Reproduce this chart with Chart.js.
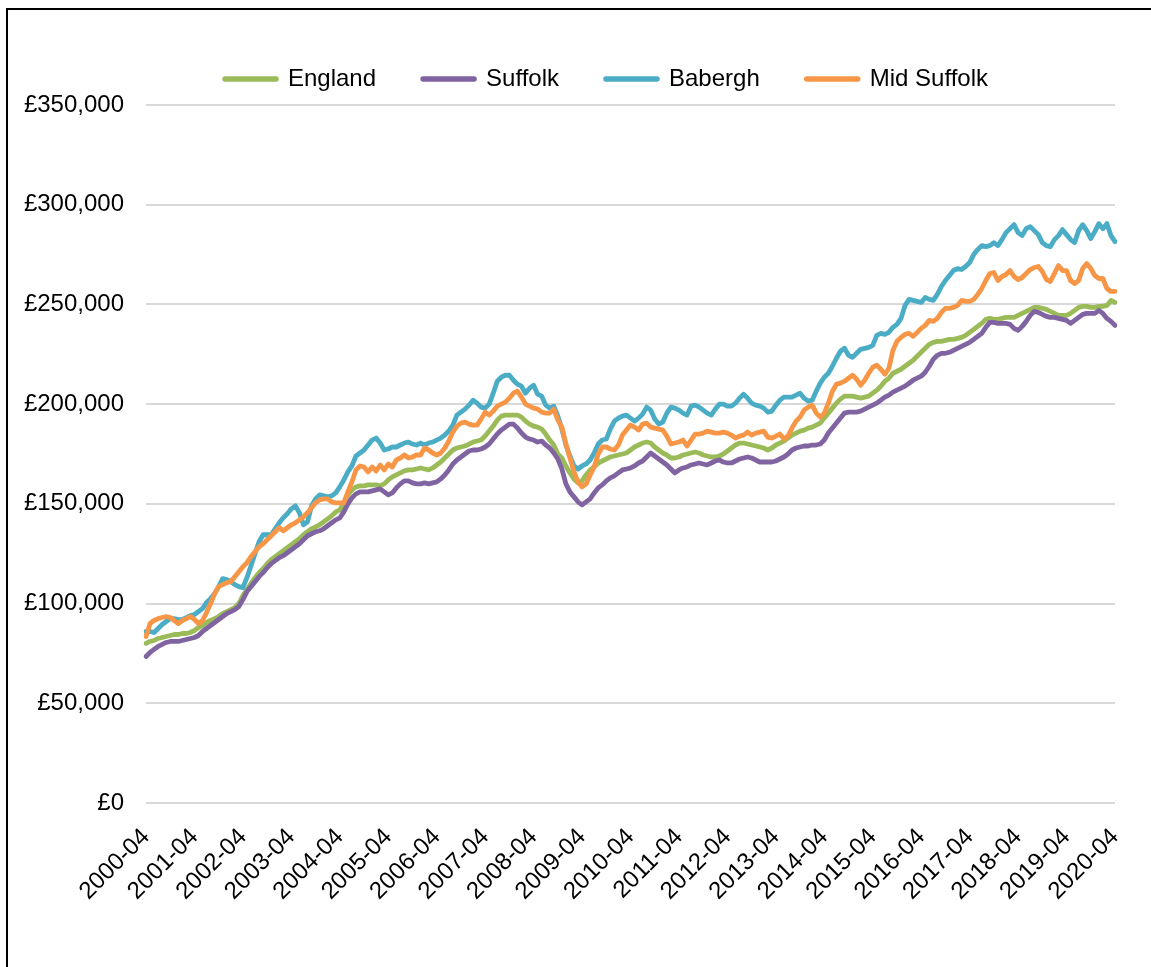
<!DOCTYPE html>
<html>
<head>
<meta charset="utf-8">
<script src="https://cdn.jsdelivr.net/npm/chart.js@4.4.1/dist/chart.umd.min.js"></script>
<style>
  html, body { margin: 0; padding: 0; background: #fff; overflow: hidden; }
  #frame { position: absolute; left: 6px; top: 8px; width: 1300px; height: 1100px; border: 2px solid #000; }
  #chart { position: absolute; left: 0; top: 0; }
</style>
</head>
<body>
<div id="frame"></div>
<!-- canvas runs past the right edge of the window so the legend centres like the original -->
<canvas id="chart" width="1213" height="967"></canvas>
<script>
// average house price, £ thousands, monthly from 2000-04 to 2020-04
const seriesNames = ['England', 'Suffolk', 'Babergh', 'Mid Suffolk'];
const seriesColors = ['#9bbb59', '#8064a2', '#4bacc6', '#f79646'];

const england = [
  80, 81, 81.5, 82.5, 83, 83.5, 84, 84.5, 84.5, 85, 85, 85.5,
  86.5, 88, 89, 90.5, 91.5, 92.5, 93.5, 95, 96, 97, 98, 100,
  104, 107, 110, 113, 115.5, 117.5, 120, 122, 123.5, 125, 126.5, 128,
  129.5, 131, 132.5, 134.5, 136, 137.5, 138.5, 139.5, 141, 142.5, 144, 146,
  147, 150.5, 154.5, 157, 158.5, 159, 159, 159.5, 159.5, 159.5, 159, 160,
  162, 163.5, 164.5, 165.5, 166.5, 167, 167, 167.5, 168, 167.5, 167, 168,
  169.5, 171, 173, 175, 177, 178, 178.5, 179, 180, 181, 181.5, 182,
  184, 186.5, 189, 192, 194, 194.5, 194.5, 194.5, 194.5, 193.5, 191.5, 190,
  189, 188.5, 187.5, 185, 182, 179.5, 175, 173, 169, 165.5, 162.5, 160.5,
  161.5, 164.5, 167, 168.5, 170.5, 171.5, 172.5, 173.5, 174, 174.5, 175, 175.5,
  177, 178.5, 179.5, 180.5, 181, 180.5, 178.5, 177, 175.5, 174.5, 173, 173,
  173.5, 174.5, 175, 175.5, 176, 175.5, 174.5, 174, 173.5, 173.5, 174, 175,
  176.5, 178, 179.5, 180.5, 180.5, 180, 179.5, 179, 178.5, 178, 177, 178,
  179.5, 180.5, 181.5, 183, 184.5, 185.5, 186.5, 187, 188, 188.5, 189.5, 190.5,
  193, 195.5, 198, 200.5, 202.5, 204, 204, 204, 203.5, 203, 203.5, 204,
  205.5, 207, 209, 211.5, 213, 215.5, 216.5, 217.5, 219, 220.5, 222, 224,
  226, 228, 230, 231, 231.5, 231.5, 232, 232.5, 232.5, 233, 233.5, 234.5,
  236, 237.5, 239, 240.5, 242.5, 243, 242.5, 242.5, 243, 243.5, 243.5, 243.5,
  244.5, 245.5, 246.5, 247.5, 248.5, 248.5, 248, 247.5, 246.5, 245.5, 244.5, 244.5,
  244.5, 245.5, 247, 248.5, 249, 249, 248.5, 248.5, 249, 249, 249.5, 252,
  251
];

const suffolk = [
  73.5, 75.5, 77, 78.5, 79.5, 80.5, 81, 81, 81, 81.5, 82, 82.5,
  83, 84, 86, 87.5, 89, 90.5, 92, 93.5, 95, 96, 97, 98.5,
  102, 106, 108.5, 111, 113.5, 115.5, 118, 120, 121.5, 123, 124, 125.5,
  127, 128.5, 130, 132, 134, 135, 136, 136.5, 137.5, 139, 140.5, 142,
  143, 146, 150, 153, 155, 156, 156, 156, 156.5, 157, 157.5, 156,
  154.5, 155.5, 158, 160, 161.5, 161.5, 160.5, 160, 160, 160.5, 160, 160.5,
  161, 162.5, 164.5, 167, 170, 172, 173.5, 175, 176.5, 177, 177, 177.5,
  178.5, 180, 182.5, 185, 187, 188.5, 190, 190, 188, 185.5, 183.5, 182.5,
  182, 181, 181.5, 179.5, 178, 175.5, 172.5, 167.5, 160, 156, 153.5, 151,
  149.5, 151, 152.5, 155.5, 158, 159.5, 161.5, 163, 164, 165.5, 167, 167.5,
  168, 169, 170.5, 171.5, 173.5, 175.5, 174, 172.5, 171, 169.5, 167.5, 165.5,
  167, 168, 168.5, 169.5, 170, 170.5, 170, 169.5, 170.5, 171.5, 172, 171,
  170.5, 170.5, 171.5, 172.5, 173, 173.5, 173, 172, 171, 171, 171, 171,
  171.5, 172.5, 173.5, 175, 177, 178, 178.5, 179, 179, 179.5, 179.5, 180,
  182, 185.5, 188, 190.5, 193, 195.5, 196, 196, 196, 196.5, 197.5, 198.5,
  199.5, 200.5, 202, 203.5, 204.5, 206, 207, 208, 209, 210.5, 212, 213,
  214, 216, 219, 222.5, 224.5, 225.5, 225.5, 226, 227, 228, 229, 230,
  231, 232.5, 234, 235.5, 238.5, 241, 241, 240.5, 240.5, 240.5, 240, 238,
  237, 239, 241.5, 244.5, 246.5, 246, 245, 244, 243.5, 243.5, 243, 242.5,
  242, 240.5, 242, 243.5, 245, 245.5, 245.5, 245.5, 247, 245.5, 243, 241.5,
  239.5
];

const babergh = [
  86, 86, 85.5, 87.5, 89.5, 91, 92.5, 92.5, 92, 92, 93, 94,
  94.5, 96, 97.5, 100.5, 102.5, 105, 108.5, 112.5, 112, 111, 109.5, 108.5,
  108, 113, 119, 125, 131, 134.5, 134.5, 134.5, 137.5, 140.5, 143, 145,
  147.5, 149, 145.5, 139.5, 141, 149, 152.5, 154.5, 154, 153.5, 154, 155.5,
  158.5, 162, 166, 169, 174, 175.5, 177, 179.5, 182, 183, 180.5, 177,
  177.5, 178.5, 178.5, 179.5, 180.5, 181, 180, 179.5, 180.5, 179.5, 180.5, 181,
  182, 183, 184.5, 186.5, 189.5, 194.5, 196, 197.5, 199.5, 202, 200.5, 198.5,
  198, 200, 205.5, 211.5, 213.5, 214.5, 214.5, 212, 210, 209, 205.5, 208,
  209.5, 205, 204, 199.5, 198, 199, 194, 187.5, 179.5, 174, 169, 167.5,
  169, 170, 172, 175.5, 180, 182, 182.5, 187.5, 191.5, 193, 194, 194.5,
  193, 191.5, 193, 195, 198.5, 197, 192.5, 190, 191, 195.5, 198.5, 198,
  197, 195.5, 194.5, 199, 199.5, 198.5, 197, 195.5, 194.5, 197.5, 200, 200,
  199, 199, 200.5, 203, 205, 203, 200.5, 199.5, 199, 198, 196, 196.5,
  199.5, 202, 203.5, 203.5, 203.5, 204.5, 205.5, 203, 201.5, 202, 206.5, 210.5,
  213.5, 215.5, 219, 223, 226.5, 228, 224.5, 223.5, 225.5, 227.5, 228, 228.5,
  229.5, 234.5, 235.5, 235, 236, 238.5, 240, 243, 249.5, 252.5, 252, 251.5,
  251, 253.5, 252.5, 252, 255, 259, 262, 264.5, 267, 268, 267.5, 269,
  271, 275, 277.5, 279.5, 279, 279.5, 281, 279.5, 282.5, 286, 288, 290,
  286, 284.5, 288, 289, 287, 285, 281, 279.5, 279, 282.5, 284.5, 287.5,
  285, 282.5, 281, 287, 290, 287, 283, 286.5, 290.5, 288, 290.5, 284.5,
  281.5
];

const midSuffolk = [
  83.5, 90, 91.5, 92.5, 93, 93.5, 93, 91.5, 90, 91.5, 92.5, 93.5,
  92, 90, 91.5, 95.5, 100, 105, 108.5, 109.5, 110.5, 111, 113.5, 116,
  118.5, 120.5, 123.5, 126, 128.5, 130, 132, 134, 136, 138, 136.5, 138,
  139.5, 140.5, 142, 143.5, 145.5, 148, 150.5, 152, 152.5, 152.5, 151, 150.5,
  150.5, 150.5, 156, 161, 167, 169, 168.5, 166, 168.5, 166.5, 169.5, 167,
  170, 168.5, 172, 173, 174.5, 173, 173.5, 174.5, 174.5, 178, 177, 175.5,
  174.5, 175.5, 178, 181.5, 186, 189, 190.5, 191, 190, 189.5, 189.5, 192.5,
  196, 194.5, 196.5, 199, 200, 201, 203, 205.5, 206.5, 203.5, 200, 199,
  198, 197.5, 196, 195.5, 195.5, 197.5, 192, 188.5, 180, 173, 166, 161,
  158.5, 160, 164.5, 168.5, 175, 178.5, 178.5, 177.5, 177, 179.5, 184.5, 187,
  189.5, 188.5, 187, 190, 190.5, 188.5, 188, 187.5, 187, 184, 180, 180.5,
  181, 182, 179, 182, 185, 185, 185.5, 186.5, 186, 185.5, 185.5, 186,
  185.5, 184.5, 183, 184, 184.5, 186, 184.5, 185.5, 186, 186.5, 183.5, 183,
  184, 185, 182.5, 184, 188, 191.5, 193.5, 197, 198.5, 199.5, 195.5, 193.5,
  195.5, 200.5, 206.5, 210, 210.5, 211.5, 213, 214.5, 212.5, 209.5, 212, 215.5,
  218.5, 219.5, 217.5, 215, 218, 227, 231.5, 233.5, 235, 235.5, 234, 236,
  238, 239.5, 242, 241.5, 243, 246, 248, 248, 248.5, 249.5, 252, 251.5,
  251.5, 252.5, 255, 258, 262, 265.5, 266, 262, 264, 265, 267, 264,
  262.5, 263.5, 265.5, 267.5, 268.5, 269, 266.5, 262.5, 261.5, 265.5, 269.5, 267,
  267, 262, 260.5, 262, 268, 270.5, 268, 264.5, 263, 263, 258, 256.5,
  256.5
];

// month labels 2000-04 .. 2020-04
const months = [];
for (let y = 2000; y <= 2020; y++) {
  for (let m = 1; m <= 12; m++) {
    if ((y === 2000 && m < 4) || (y === 2020 && m > 4)) continue;
    months.push(y + '-' + String(m).padStart(2, '0'));
  }
}

const values = [england, suffolk, babergh, midSuffolk];

Chart.defaults.font.family = '"Liberation Sans", Arial, sans-serif';
Chart.defaults.font.size = 24;
Chart.defaults.color = '#000';

const baseLabels = Chart.defaults.plugins.legend.labels.generateLabels;

new Chart(document.getElementById('chart'), {
  type: 'line',
  data: {
    labels: months,
    datasets: values.map((v, i) => ({
      label: seriesNames[i],
      data: v,
      borderColor: seriesColors[i],
      backgroundColor: seriesColors[i],
      order: 4 - i   // later series drawn on top, like the original
    }))
  },
  options: {
    responsive: false,
    animation: false,
    devicePixelRatio: 1,
    layout: { padding: { top: 20, left: 0, right: 0, bottom: 0 } },
    elements: {
      point: { radius: 0 },
      line: { tension: 0, borderWidth: 4.8, borderCapStyle: 'round', borderJoinStyle: 'round' }
    },
    plugins: {
      legend: {
        position: 'top',
        labels: {
          usePointStyle: true,
          pointStyle: 'line',
          pointStyleWidth: 51,
          padding: 47,
          sort: (a, b) => a.datasetIndex - b.datasetIndex,
          generateLabels: chart => baseLabels(chart).map(l => ({ ...l, lineWidth: 5.5, lineCap: 'round' }))
        }
      },
      // empty spacer between legend and plot
      subtitle: { display: true, text: '', position: 'top', weight: 500, padding: 0, font: { size: 4, lineHeight: 1 } },
      tooltip: { enabled: false }
    },
    scales: {
      x: {
        grid: { display: false },
        border: { display: false },
        ticks: {
          autoSkip: false,
          minRotation: 45,
          maxRotation: 45,
          padding: 12,
          callback: function (v, i) { return i % 12 === 0 ? this.getLabelForValue(v) : ''; }
        },
        afterFit: s => { s.height = 164; }
      },
      y: {
        min: 0,
        max: 350,
        grid: { color: '#d9d9d9', lineWidth: 2, drawTicks: false },
        border: { display: false },
        ticks: {
          stepSize: 50,
          padding: 22,
          callback: v => '£' + (v * 1000).toLocaleString('en-GB')
        },
        afterFit: s => { s.width = 146; }
      },
      // empty right-hand spacer: keeps the plot ending at the same place
      spacer: {
        type: 'linear',
        position: 'right',
        grid: { display: false },
        border: { display: false },
        ticks: { display: false },
        afterFit: s => { s.width = 98; }
      }
    }
  }
});
</script>
</body>
</html>
